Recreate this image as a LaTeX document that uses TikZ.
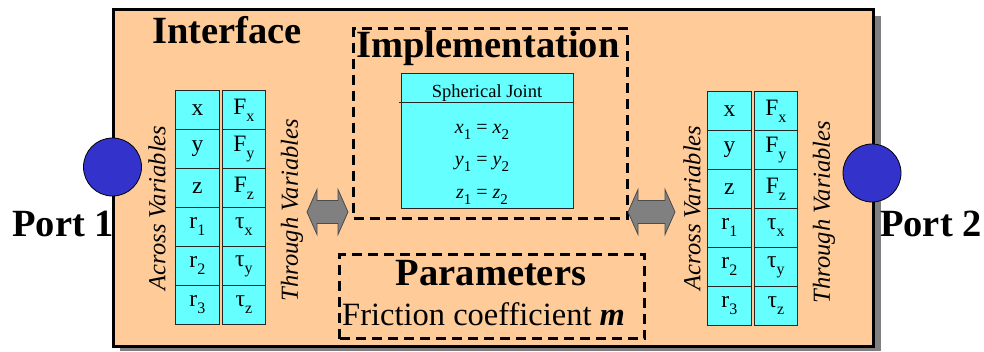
\documentclass[tikz,border=0pt]{standalone}
\usepackage{fontspec}
\setmainfont{Liberation Serif}
\definecolor{peach}{HTML}{FFCC99}
\definecolor{cellcyan}{HTML}{66FFFF}
\definecolor{portblue}{HTML}{3333CC}
\definecolor{shadowgray}{HTML}{808080}
\newcommand\sbs[1]{\raisebox{-0.32em}{\fontsize{15}{15}\selectfont #1}}
\newcommand\csb[1]{\raisebox{-0.3em}{\fontsize{16}{16}\selectfont #1}}
\tikzset{
  mainbox/.style={draw=black, line width=3pt, fill=peach, anchor=north west, inner sep=0pt},
  dashbox/.style={draw=black, line width=3pt, dash pattern=on 10pt off 6pt, anchor=north west, inner sep=0pt},
  cell/.style={draw=black!85, line width=0.8pt, fill=cellcyan, minimum height=39pt, inner sep=0pt, anchor=north west, font=\fontsize{23.5}{23.5}\selectfont},
  cellA/.style={cell, minimum width=44pt},
  cellB/.style={cell, minimum width=43pt},
  vlabel/.style={rotate=90, font=\itshape\fontsize{24.5}{24.5}\selectfont, inner sep=0pt},
  bigtitle/.style={font=\bfseries\fontsize{38.5}{38.5}\selectfont, inner sep=0pt},
  port/.style={circle, draw=black, line width=0.8pt, fill=portblue, minimum size=58pt, inner sep=0pt},
  blockarrow/.style={draw=black!70, line width=0.8pt, fill=shadowgray},
  eqn/.style={font=\fontsize{20}{20}\selectfont, inner sep=0pt, anchor=base},
}
\begin{document}
\begin{tikzpicture}[x=1pt,y=-1pt]
\useasboundingbox (0,0) rectangle (984,351);
% shadow and main box
\fill[shadowgray] (120,16) rectangle (881,351);
\node[mainbox, minimum width=760pt, minimum height=337pt] (iface) at (112,8) {};
\node[bigtitle, anchor=base west] (ifacetitle) at (152,43) {Interface};
% implementation
\node[dashbox, minimum width=274pt, minimum height=190pt] (impl) at (352,27) {};
\node[bigtitle, anchor=base] (impltitle) at (488,57) {Implementation};
\node[draw=black!85, line width=0.8pt, fill=cellcyan, anchor=north west, minimum width=172pt, minimum height=135pt, inner sep=0pt] (joint) at (401,73) {};
\draw[black!85, line width=0.8pt] ([xshift=-2pt]joint.west |- 0,102) coordinate (hl) -- (joint.east |- hl);
\node[eqn, font=\fontsize{18.5}{18.5}\selectfont] (jtitle) at (487,97) {Spherical Joint};
\node[eqn] (eq1) at (482,133) {\textit{x}\sbs{1} = \textit{x}\sbs{2}};
\node[eqn] (eq2) at (482,165) {\textit{y}\sbs{1} = \textit{y}\sbs{2}};
\node[eqn] (eq3) at (482,198) {\textit{z}\sbs{1} = \textit{z}\sbs{2}};
% parameters
\node[dashbox, minimum width=305pt, minimum height=84pt] (params) at (338,253) {};
\node[bigtitle, anchor=base] (paramtitle) at (491,285) {Parameters};
\node[inner sep=0pt, anchor=base west, font=\fontsize{32.5}{32.5}\selectfont] (friction) at (342,325) {Friction coefficient \textbf{\textit{m}}};
% left table
\foreach \t [count=\i from 0] in {x,y,z,r\csb{1},r\csb{2},r\csb{3}}
  \node[cellA] (la\i) at (175,{90+39*\i}) {\t};
\foreach \t [count=\i from 0] in {F\csb{x},F\csb{y},F\csb{z},τ\csb{x},τ\csb{y},τ\csb{z}}
  \node[cellB] (lb\i) at (222,{90+39*\i}) {\t};
% right table
\foreach \t [count=\i from 0] in {x,y,z,r\csb{1},r\csb{2},r\csb{3}}
  \node[cellA] (ra\i) at (707,{91+39*\i}) {\t};
\foreach \t [count=\i from 0] in {F\csb{x},F\csb{y},F\csb{z},τ\csb{x},τ\csb{y},τ\csb{z}}
  \node[cellB] (rb\i) at (754,{91+39*\i}) {\t};
% vertical labels
\node[vlabel] (lacross) at (157,208) {Across Variables};
\node[vlabel] (lthrough) at (292,210) {Through Variables};
\node[vlabel] (racross) at (692,208) {Across Variables};
\node[vlabel] (rthrough) at (824,212) {Through Variables};
% block arrows
\foreach \cx/\hl in {327.5/20.5, 651.5/23.5}
  \draw[blockarrow, shift={(\cx,212)}] (-\hl,0) -- ({-\hl+10},-22.5) -- ({-\hl+10},-11.5) -- ({\hl-10},-11.5) -- ({\hl-10},-22.5) -- (\hl,0) -- ({\hl-10},22.5) -- ({\hl-10},11.5) -- ({-\hl+10},11.5) -- ({-\hl+10},22.5) -- cycle;
% ports
\node[port] (p1) at (112.5,167) {};
\node[port] (p2) at (872,173) {};
\node[bigtitle, anchor=base east] (p1label) at (114,236) {Port 1};
\node[bigtitle, anchor=base west] (p2label) at (880,236) {Port 2};
\end{tikzpicture}
\end{document}
